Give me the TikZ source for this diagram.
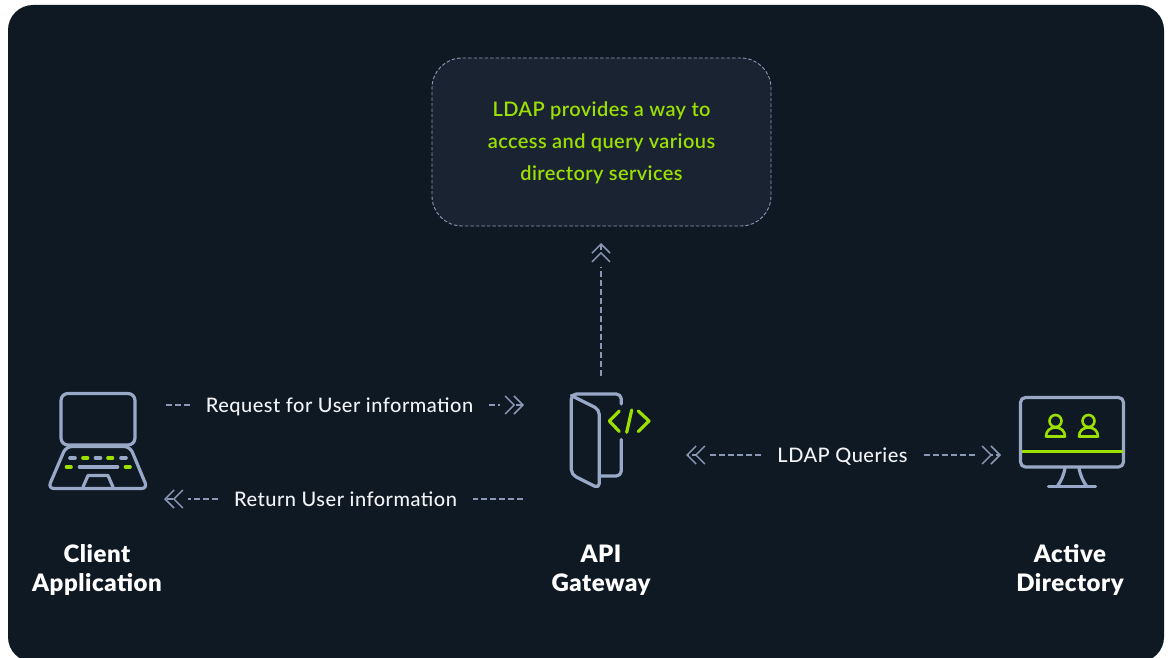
\documentclass[tikz,border=0pt]{standalone}
\usepackage{fontspec}
\setmainfont[LetterSpace=2.5]{Lato Medium}
\newfontfamily\notefont[LetterSpace=2]{Lato Semibold}
\newfontfamily\labelfont[LetterSpace=2.2,BoldFont={Lato Black}]{Lato}
\usetikzlibrary{arrows.meta}
\definecolor{pagebg}{HTML}{0F1923}
\definecolor{notebg}{HTML}{1A2332}
\definecolor{iconline}{HTML}{9AA8C7}
\definecolor{dashline}{HTML}{8B98B5}
\definecolor{limeg}{HTML}{9BE000}
\definecolor{softwhite}{HTML}{F1F3F6}
\tikzset{
  x=1pt,y=-1pt,
  icon/.style={draw=iconline,line width=3.2pt,line cap=round,line join=round},
  iconlime/.style={draw=limeg,line width=3.2pt,line cap=round,line join=round},
  keycap/.style={line width=3.6pt},
  personlime/.style={draw=limeg,line width=2.6pt,line join=round},
  dashflow/.style={draw=dashline,line width=1.2pt,dash pattern=on 6pt off 3pt},
  flow/.style={dashflow,-{Rectangle[length=13pt,width=1.8pt,line width=0pt,color=pagebg,fill=pagebg,sep=-8.5pt]Straight Barb[length=9pt,width=18pt,line width=1.5pt,sep=-2pt]Straight Barb[length=9pt,width=18pt,line width=1.5pt,sep=0pt]}},
  flowlabel/.style={text=softwhite,font=\fontsize{20}{24}\selectfont,inner xsep=16pt,inner ysep=2pt,anchor=base},
  title/.style={text=white,font=\labelfont\bfseries\fontsize{24}{29}\selectfont,align=center,inner sep=0pt},
}
\begin{document}
\begin{tikzpicture}
\useasboundingbox (0,0) rectangle (1168,658);
\fill[white] (0,0) rectangle (1168,658);
\begin{scope}
\clip (0,0) rectangle (1168,658);
\fill[pagebg,rounded corners=25pt] (8,5) rectangle (1164,662);
\end{scope}

% note
\node[draw=dashline,fill=notebg,line width=0.9pt,dash pattern=on 3.5pt off 2pt,rounded corners=30pt,
  minimum width=339pt,minimum height=168pt,inner sep=0pt] (note) at (601.5,142) {};
\node[text=limeg,align=center,inner sep=0pt,font=\notefont\fontsize{20}{32}\selectfont] (noteText) at (601.5,143) {LDAP provides a way to\\access and query various\\directory services};

% laptop
\node[inner sep=0pt,minimum width=100pt,minimum height=97pt] (clientIcon) at (97.5,441) {};
\draw[icon,rounded corners=7pt] (61,393.5) rectangle (135,445);
\draw[icon,rounded corners=6pt] (66,446.5) -- (130,446.5) -- (147.5,488.5) -- (48,488.5) -- cycle;
\draw[icon] (83,487) -- (88,475.5) -- (108,475.5) -- (113,487);
\foreach \a/\b/\yy in {70/75/458,95.5/100.5/458,121/126/458,79.5/117.5/467}{\draw[icon,keycap] (\a,\yy) -- (\b,\yy);}
\foreach \a/\b/\yy in {83/87.5/458,108/112.5/458,66.5/71/467,125.5/130/467}{\draw[iconlime,keycap] (\a,\yy) -- (\b,\yy);}

% gateway
\node[inner sep=0pt,minimum width=80pt,minimum height=95pt] (gatewayIcon) at (611,441) {};
\draw[icon,rounded corners=5pt] (621.3,404) -- (621.3,394) -- (571.3,394) -- (571.3,474.5) -- (599.3,488.5) -- (599.3,409.5) -- (571.3,395.5);
\draw[icon,rounded corners=5pt] (599.3,476) -- (621.3,476) -- (621.3,439.5);
\draw[iconlime] (619.3,411) -- (609.3,421) -- (619.3,431.5);
\draw[iconlime] (631.7,410) -- (626.7,432.3);
\draw[iconlime] (638.3,411) -- (649,421) -- (638.3,431.5);

% monitor
\node[inner sep=0pt,minimum width=104pt,minimum height=90pt] (adIcon) at (1072,442) {};
\draw[icon,rounded corners=5pt] (1020.5,397.5) rectangle (1123.5,467);
\draw[limeg,line width=3pt] (1022,451.7) -- (1122.5,451.7);
\draw[icon,line cap=butt] (1065,468) .. controls (1063.5,476) and (1061,481) .. (1057.5,486);
\draw[icon,line cap=butt] (1079,468) .. controls (1080.5,476) and (1083,481) .. (1086.5,486);
\draw[icon] (1048.5,486.5) -- (1095.5,486.5);
\foreach \cx in {1055.5,1088.5}{
  \draw[personlime] (\cx,421) circle (6pt);
  \draw[personlime] (\cx-9.5,436.5) .. controls (\cx-9.5,431) and (\cx-5.5,427.5) .. (\cx,427.5)
     .. controls (\cx+5.5,427.5) and (\cx+9.5,431) .. (\cx+9.5,436.5) -- cycle;
}

% titles
\node[title] (clientTitle) at (97,570) {Client\\Application};
\node[title] (gatewayTitle) at (601,570) {API\\Gateway};
\node[title] (adTitle) at (1070,570) {Active\\Directory};

% flow labels
\node[flowlabel] (req) at (339.5,412) {Request for User information};
\node[flowlabel] (ret) at (345.5,506) {Return User information};
\node[flowlabel] (ldap) at (842.5,462) {LDAP Queries};

% connectors
\coordinate (upStart) at (601,376);
\coordinate (upEnd) at (601,243);
\draw[flow] (upStart) -- (upEnd);
\coordinate (reqStart) at (166,405);
\coordinate (reqEnd) at (524,405);
\draw[dashflow] (reqStart) -- (req.west |- reqStart);
\draw[flow] (req.east |- reqEnd) -- (reqEnd);
\coordinate (retStart) at (523,499);
\coordinate (retEnd) at (164,499);
\draw[dashflow] (retStart) -- (ret.east |- retStart);
\draw[flow] (ret.west |- retEnd) -- (retEnd);
\coordinate (ldapLeft) at (686,455);
\coordinate (ldapRight) at (1001,455);
\draw[flow] (ldap.west |- ldapLeft) -- (ldapLeft);
\draw[flow] (ldap.east |- ldapRight) -- (ldapRight);
\end{tikzpicture}
\end{document}
